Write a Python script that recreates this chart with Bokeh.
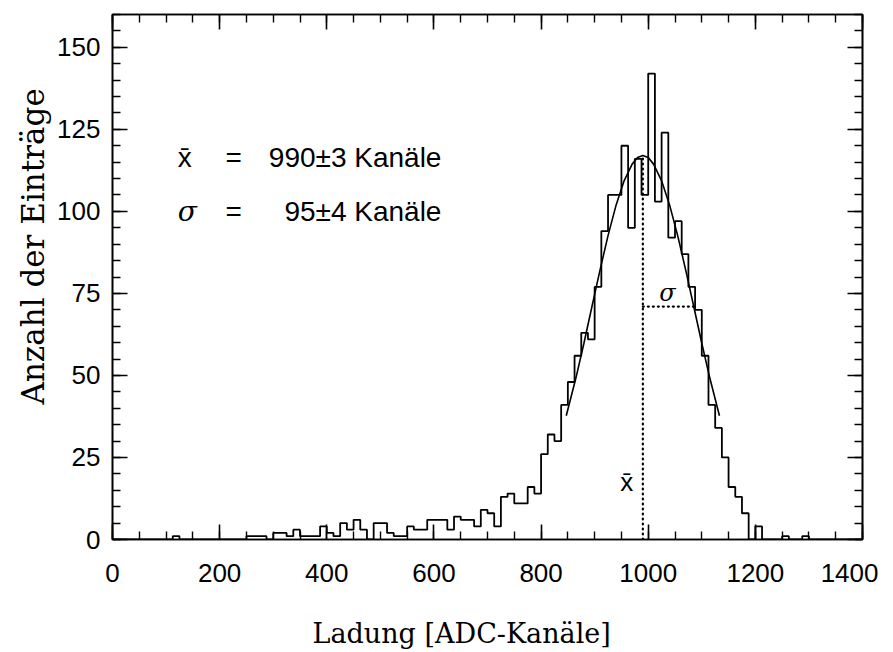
from bokeh.plotting import figure
from bokeh.models import (LinearAxis, SingleIntervalTicker, Range1d, Label,
                          CustomJSTickFormatter, Title)
from bokeh.embed import file_html
from bokeh.resources import INLINE

# ---------------- data ----------------
bin_width = 12.5
# counts per 12.5-channel bin, starting at 0
counts = [
    0, 0, 0, 0, 0, 0, 0, 0, 0, 1,           # 0 .. 112.5
    0, 0, 0, 0, 0, 0, 0, 0, 0, 0,           # 125 .. 237.5
    1, 1, 1, 0, 2, 2, 1, 3, 1, 1,           # 250 .. 362.5
    1, 4, 2, 1, 5, 3, 6, 3, 0, 5,           # 375 .. 487.5
    5, 2, 1, 1, 4, 3, 3, 6, 6, 6,           # 500 .. 612.5
    3, 7, 6, 6, 4, 9, 8, 4, 13, 14,         # 625 .. 737.5
    11, 11, 16, 14, 26, 32, 30, 41, 48, 56, # 750 .. 862.5
    63, 61, 77, 94, 105, 105, 120, 95, 116, 105,   # 875 .. 987.5
    142, 103, 124, 92, 97, 87, 77, 70, 56, 41,     # 1000 .. 1112.5
    34, 25, 16, 13, 8, 0, 4, 0, 0, 0,       # 1125 .. 1237.5
    1, 0, 0, 1, 0, 0, 0, 0, 0, 0,           # 1250 .. 1362.5
    0, 0,                                    # 1375 .. 1387.5
]

# fitted gaussian curve
fit_x = [847, 865, 880, 895, 910, 925, 940, 955, 970, 980, 990,
         1000, 1010, 1025, 1040, 1055, 1070, 1085, 1100, 1115, 1133]
fit_y = [37.7, 49.2, 59.8, 71.0, 82.1, 92.6, 101.9, 109.3, 114.4, 116.4, 117.0,
         116.4, 114.4, 109.3, 101.9, 92.6, 82.1, 71.0, 59.8, 49.2, 37.7]

mean_x = 990
peak_y = 117
sigma_x_end = 1085
sigma_y = 71

x_title = "Ladung [ADC-Kanäle]"
y_title = "Anzahl der Einträge"

# ---------------- figure ----------------
FONT_NUM = "Liberation Sans"
FONT_LAB = "DejaVu Serif"

p = figure(width=878, height=652, output_backend="svg", toolbar_location=None,
           x_range=Range1d(0, 1400), y_range=Range1d(0, 160),
           min_border_left=112, min_border_right=16, min_border_top=14,
           min_border_bottom=113)
p.background_fill_color = "white"
p.border_fill_color = "white"
p.outline_line_color = "black"
p.outline_line_width = 1.6
p.xgrid.visible = False
p.ygrid.visible = False

edges = [i * bin_width for i in range(len(counts) + 1)]
step_y = counts + [counts[-1]]
p.step(edges, step_y, mode="after", line_color="black", line_width=1.8)

p.line(fit_x, fit_y, line_color="black", line_width=1.6)

# dotted mean / sigma markers
p.line([mean_x, mean_x], [0, peak_y], line_color="black", line_width=2.2,
       line_dash="1 4", line_cap="round")
p.line([mean_x, sigma_x_end], [sigma_y, sigma_y], line_color="black",
       line_width=2.2, line_dash="1 4", line_cap="round")


def style_axis(ax, labels=True):
    ax.axis_line_color = "black"
    ax.axis_line_width = 1.6
    ax.major_tick_in = 15
    ax.major_tick_out = 0
    ax.minor_tick_in = 8
    ax.minor_tick_out = 0
    ax.major_tick_line_width = 1.6
    ax.minor_tick_line_width = 1.4
    if labels:
        ax.major_label_text_font = FONT_NUM
        ax.major_label_text_font_size = "26px"
        ax.major_label_text_color = "black"
    else:
        ax.major_label_text_font_size = "0px"
        ax.major_label_standoff = 0
        ax.formatter = CustomJSTickFormatter(code="return ''")


p.xaxis.ticker = SingleIntervalTicker(interval=200, num_minor_ticks=4)
p.yaxis.ticker = SingleIntervalTicker(interval=25, num_minor_ticks=5)
style_axis(p.xaxis[0])
style_axis(p.yaxis[0])
p.xaxis.major_label_standoff = 24
p.yaxis.major_label_standoff = 12

rax = LinearAxis(ticker=SingleIntervalTicker(interval=25, num_minor_ticks=5))
tax = LinearAxis(ticker=SingleIntervalTicker(interval=200, num_minor_ticks=4))
style_axis(rax, labels=False)
style_axis(tax, labels=False)
p.add_layout(rax, "right")
p.add_layout(tax, "above")

# axis titles as side titles (slightly off-centre, as in the original);
# the leading empty line pushes the x title further down
xt = Title(text="\n" + x_title, align="left", offset=200, standoff=0,
           text_font=FONT_LAB, text_font_size="27px",
           text_font_style="normal", text_color="black")
p.add_layout(xt, "below")
yt = Title(text=y_title, align="left", offset=135, standoff=8,
           text_font=FONT_LAB, text_font_size="31px",
           text_font_style="normal", text_color="black")
p.add_layout(yt, "left")

# annotations near the fit
p.add_layout(Label(x=960, y=17.5, text="x̄", text_font=FONT_NUM,
                   text_font_size="26px", text_align="center",
                   text_baseline="middle", text_color="black"))
p.add_layout(Label(x=1036, y=75, text="σ", text_font="DejaVu Serif",
                   text_font_size="24px", text_align="center",
                   text_baseline="middle", text_font_style="italic",
                   text_color="black"))

ann_font = "28px"
rows = [("x̄", "990±3 Kanäle", 116.5, FONT_NUM, "normal"),
        ("σ", "95±4 Kanäle", 100.0, "DejaVu Serif", "italic")]
for sym, txt, yy, sfont, sstyle in rows:
    p.add_layout(Label(x=122, y=yy, text=sym, text_font=sfont,
                       text_font_size=ann_font, text_align="left",
                       text_baseline="middle", text_font_style=sstyle,
                       text_color="black"))
    p.add_layout(Label(x=226, y=yy, text="=", text_font=FONT_NUM,
                       text_font_size=ann_font, text_align="center",
                       text_baseline="middle", text_color="black"))
    p.add_layout(Label(x=614, y=yy, text=txt, text_font=FONT_NUM,
                       text_font_size=ann_font, text_align="right",
                       text_baseline="middle", text_color="black"))

open("out.html", "w").write(file_html(p, INLINE))
